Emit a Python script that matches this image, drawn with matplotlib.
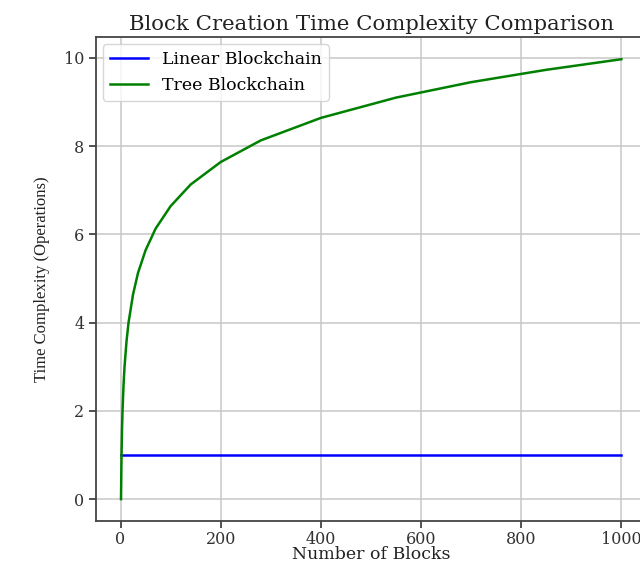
import matplotlib
matplotlib.use("Agg")
import matplotlib.pyplot as plt

# values
blocks_linear = [1, 250, 500, 750, 1000]
ops_linear = [1, 1, 1, 1, 1]

blocks_tree = [1, 2, 3, 4, 6, 8, 12, 16, 25, 35, 50, 70, 100, 140, 200, 280, 400, 550, 700, 850, 1000]
ops_tree = [0, 1.0, 1.58, 2.0, 2.58, 3.0, 3.58, 4.0, 4.64, 5.13, 5.64, 6.13, 6.64, 7.13,
            7.64, 8.13, 8.64, 9.1, 9.45, 9.73, 9.97]

plt.rcParams['font.family'] = 'DejaVu Serif'

fig = plt.figure(figsize=(6.4, 5.64), dpi=100)
ax = fig.add_axes([0.15, 0.076, 0.86, 0.858])

ax.plot(blocks_linear, ops_linear, color='blue', lw=1.8, label='Linear Blockchain')
ax.plot(blocks_tree, ops_tree, color='green', lw=1.8, label='Tree Blockchain')

ax.set_xticks([0, 200, 400, 600, 800, 1000])
ax.set_yticks([0, 2, 4, 6, 8, 10])
ax.tick_params(labelsize=11.5, colors='#333333', width=1.2, length=5)
ax.tick_params(axis='x', pad=2)
for s in ax.spines.values():
    s.set_color('#444444')
    s.set_linewidth(1.3)
ax.grid(True, color='#c8c8c8', lw=1.1)
ax.set_title('Block Creation Time Complexity Comparison', fontsize=15.3, pad=5, color='#222222')
ax.set_xlabel('Number of Blocks', fontsize=12.5, labelpad=-1, color='#222222')
ax.set_ylabel('Time Complexity (Operations)', fontsize=12, family='Liberation Serif',
              color='#222222', labelpad=10)
ax.legend(loc='upper left', fontsize=12.5, borderaxespad=0.4, handlelength=2.2)

fig.savefig('out.png', dpi=100)
